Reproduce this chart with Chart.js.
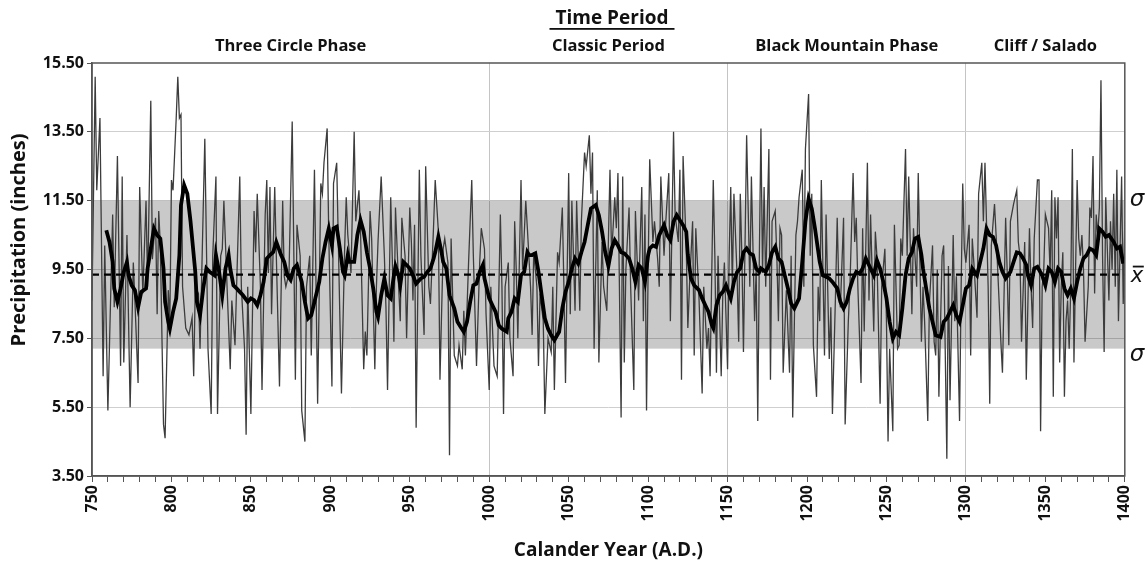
<!DOCTYPE html>
<html>
<head>
<meta charset="utf-8">
<script src="https://cdn.jsdelivr.net/npm/chart.js@4.4.1/dist/chart.umd.min.js"></script>
<style>
  html, body { margin: 0; padding: 0; background: #ffffff; }
  #wrap { width: 1147px; height: 566px; position: relative; }
</style>
</head>
<body>
<div id="wrap"><canvas id="chart" width="1147" height="566"></canvas></div>
<script>
// Annual precipitation (inches) by calendar year
const annualYears = [
  750,752,753,755,757,758,760,763,764,766,768,769,770,772,774,776,777,779,780,782,784,785,787,788,790,791,792,793,795,796,798,799,
  800,801,803,804,805,806,807,809,811,813,814,815,817,818,821,823,825,826,828,829,831,832,833,835,837,838,840,841,843,844,846,847,848,
  850,852,853,854,856,857,859,860,861,862,863,865,866,868,870,871,872,874,876,878,879,881,882,884,885,887,888,890,892,894,895,896,898,899,
  901,902,904,906,907,909,910,911,913,915,916,918,919,921,922,923,925,926,928,929,930,932,934,935,936,938,939,940,941,943,944,945,947,948,
  950,951,952,953,954,956,957,959,960,962,963,965,966,968,969,971,972,974,975,976,978,980,981,983,984,985,987,989,990,992,994,995,997,998,
  1000,1001,1003,1005,1007,1008,1009,1010,1012,1013,1015,1016,1017,1018,1020,1021,1023,1024,1026,1027,1028,1030,1031,1032,1034,1035,1037,1039,
  1040,1041,1043,1044,1046,1047,1048,1050,1051,1052,1054,1055,1057,1058,1060,1061,1063,1064,1065,1066,1068,1069,1071,1072,1074,1076,1077,1079,
  1080,1081,1083,1084,1085,1086,1088,1089,1091,1092,1094,1095,1096,1097,1098,1099,1100,1101,1103,1104,1106,1107,1108,1110,1111,1113,1114,1116,
  1117,1119,1120,1121,1122,1124,1125,1126,1128,1129,1130,1132,1134,1135,1137,1138,1139,1141,1142,1143,1144,1146,1147,1148,1150,1151,1152,1153,
  1154,1156,1157,1158,1159,1160,1162,1164,1165,1167,1168,1169,1170,1171,1172,1173,1174,1176,1177,1178,1180,1181,1182,1183,1184,1185,1187,1189,
  1190,1191,1193,1194,1195,1197,1198,1199,1201,1202,1203,1204,1206,1207,1208,1209,1211,1212,1214,1215,1216,1218,1219,1220,1221,1223,1224,1226,
  1227,1229,1230,1231,1232,1234,1235,1236,1238,1239,1240,1242,1243,1244,1246,1247,1249,1250,1251,1252,1254,1255,1257,1258,1259,1260,1262,1263,
  1264,1266,1267,1269,1270,1272,1273,1274,1276,1277,1279,1280,1281,1282,1283,1285,1286,1288,1289,1290,1292,1293,1294,1296,1297,1298,1299,1300,
  1302,1303,1304,1305,1307,1308,1310,1311,1312,1314,1315,1316,1318,1319,1320,1322,1323,1325,1326,1327,1328,1330,1332,1333,1334,1335,1337,1338,
  1340,1341,1342,1343,1345,1346,1347,1348,1349,1350,1352,1353,1354,1355,1356,1357,1358,1359,1360,1361,1362,1363,1364,1365,1366,1367,1368,1370,
  1371,1372,1373,1374,1375,1377,1378,1379,1380,1381,1382,1383,1384,1385,1386,1387,1388,1389,1390,1391,1392,1393,1394,1395,1396,1397,1398,1399,1400
];
const annualValues = [
  8.6,15.1,11.8,13.9,6.4,10.2,5.4,11.1,8.4,12.8,6.7,12.2,6.8,10.5,5.5,9.7,8.6,6.2,11.9,8.8,11.5,9.0,14.4,9.8,11.0,8.2,11.2,10.2,5.0,4.6,8.9,8.0,
  12.1,11.8,13.9,15.1,13.9,14.0,9.0,7.8,7.6,8.1,6.4,9.0,8.8,7.2,13.3,7.2,5.3,9.9,12.2,5.3,9.9,10.1,11.5,9.0,6.6,8.6,7.3,9.0,12.2,9.0,7.2,4.7,9.0,
  5.3,11.2,10.0,11.7,9.0,6.0,11.1,12.1,9.4,11.9,8.2,11.9,9.9,6.1,11.5,9.3,9.0,9.4,13.8,6.3,10.8,9.9,5.4,4.5,9.0,9.9,7.0,12.4,5.6,12.0,11.7,12.6,13.6,10.5,
  6.1,12.0,12.6,8.1,5.9,10.1,11.6,10.5,9.4,13.5,10.9,11.8,10.6,6.6,7.7,7.0,11.2,10.4,6.6,9.0,10.3,12.2,9.9,8.4,6.0,11.6,9.8,7.4,11.3,9.0,8.0,11.0,9.9,7.5,
  11.3,10.3,8.6,10.8,4.9,12.4,9.9,7.6,12.5,9.0,8.5,10.8,12.1,10.6,6.3,10.1,10.4,9.7,4.1,10.4,7.0,6.7,7.3,6.6,8.3,7.0,9.7,12.1,9.9,6.7,9.7,10.7,10.1,8.2,
  6.0,9.0,6.7,6.4,11.1,9.0,5.3,9.0,9.7,7.5,6.4,10.9,9.5,7.5,12.1,9.5,11.5,10.7,9.0,7.6,10.0,9.0,6.7,8.8,8.0,5.3,7.5,7.1,
  9.0,6.0,10.0,9.7,11.3,9.0,6.2,12.3,8.2,11.5,8.3,11.5,8.3,10.9,12.9,12.5,13.4,11.7,12.9,7.2,11.8,6.8,10.3,9.0,8.3,12.4,9.9,11.6,
  10.7,12.3,5.2,12.2,6.8,9.5,11.3,9.0,6.0,11.2,8.6,10.3,11.9,8.0,11.1,5.4,9.5,12.7,10.3,10.9,9.8,9.0,12.2,9.9,10.8,12.3,8.0,13.5,
  11.1,10.3,12.4,6.3,12.8,10.1,7.8,9.0,10.9,7.0,10.7,8.7,5.9,9.0,7.2,7.8,6.4,12.1,9.9,6.5,9.9,6.4,8.8,9.7,6.6,9.9,11.9,9.0,
  11.7,9.3,7.4,11.7,9.9,7.1,13.4,9.0,12.2,8.0,9.5,5.1,9.9,13.6,9.4,11.9,9.0,13.0,6.3,10.9,11.2,9.9,8.0,10.7,10.5,6.5,8.9,6.5,
  9.9,5.2,10.5,10.9,11.6,12.4,9.0,13.0,14.6,9.9,11.7,7.3,5.8,9.0,8.0,12.1,7.0,11.1,6.9,8.4,5.3,8.9,11.0,9.0,8.4,11.0,5.0,8.0,
  9.0,12.3,10.3,11.0,9.0,6.2,10.7,7.7,12.6,8.6,11.1,7.7,10.6,9.9,5.6,9.0,10.1,8.0,4.5,7.2,4.8,10.8,7.2,7.3,10.4,9.9,13.0,9.9,
  12.2,8.2,10.7,9.0,12.3,7.4,9.0,8.0,5.1,8.5,10.2,7.4,7.0,9.5,5.8,9.9,10.2,4.0,9.6,5.7,10.5,8.0,9.3,5.1,9.0,12.0,10.1,9.7,
  10.8,7.0,10.4,9.7,8.1,11.7,12.6,10.9,12.6,9.0,5.6,10.2,11.4,10.5,9.5,7.4,6.5,11.0,9.4,7.3,10.9,11.4,11.8,10.3,9.9,7.4,10.3,6.3,
  10.7,9.0,7.8,10.4,12.1,12.1,4.8,9.0,9.5,11.1,10.7,9.4,11.8,5.8,11.6,10.4,11.6,6.8,9.0,10.0,5.8,8.0,8.6,7.2,9.0,13.0,6.8,12.1,
  10.4,9.9,10.5,9.5,7.4,9.0,11.3,11.0,12.8,8.8,11.1,10.5,11.3,15.0,9.9,7.1,11.6,10.1,8.6,10.9,9.5,11.7,9.0,12.4,8.0,10.1,12.2,8.5,10.9
];

// Running mean of the annual series
const smoothYears = [
  759,761,763,764,766,768,770,772,773,775,777,779,781,784,785,787,789,791,793,795,796,798,799,801,803,805,806,808,810,812,
  815,816,818,820,822,824,827,828,830,832,834,836,837,839,841,843,845,848,850,852,854,856,858,860,862,864,866,869,871,873,875,877,879,
  882,884,886,888,890,893,895,897,899,901,902,904,906,908,909,911,912,915,917,919,921,923,925,927,929,930,932,934,936,938,940,941,943,944,
  946,948,950,952,954,957,959,961,963,965,966,968,970,971,973,975,978,980,982,984,986,988,990,992,994,996,997,
  1000,1002,1004,1006,1008,1010,1011,1012,1014,1015,1016,1018,1020,1022,1024,1025,1027,1029,1031,1033,1035,1037,1039,1041,1044,1046,1048,
  1050,1052,1054,1056,1058,1060,1062,1064,1067,1069,1071,1073,1075,1077,1079,1081,1083,1085,1088,1090,1092,1094,1096,1098,
  1100,1101,1103,1105,1107,1110,1112,1114,1116,1118,1120,1122,1124,1125,1127,1129,1132,1134,1136,1138,1140,1141,1143,1145,1147,1149,
  1152,1154,1156,1158,1160,1162,1164,1166,1168,1170,1171,1174,1176,1178,1180,1182,1184,1186,1188,1190,1192,1195,1197,1199,
  1201,1203,1205,1208,1210,1212,1214,1216,1219,1221,1223,1225,1227,1229,1231,1233,1235,1237,1240,1242,1244,1246,1248,
  1250,1252,1254,1256,1258,1260,1262,1264,1266,1268,1270,1272,1273,1275,1277,1279,1281,1284,1286,1288,1290,1292,1294,1296,1298,
  1300,1302,1304,1307,1309,1311,1313,1315,1317,1319,1321,1323,1325,1328,1330,1332,1334,1336,1338,1339,1341,1343,1345,1348,
  1350,1352,1354,1356,1358,1360,1362,1364,1366,1368,1370,1372,1374,1376,1378,1380,1382,1384,1386,1388,1390,1393,1395,1397,1399
];
const smoothValues = [
  10.64,10.3,9.72,8.95,8.56,8.95,9.43,9.72,9.33,9.04,8.9,8.4,8.85,8.95,9.53,10.11,10.69,10.5,10.4,9.53,8.56,7.98,7.78,8.27,8.66,9.92,11.37,11.95,11.7,10.9,
  9.43,8.56,8.17,8.95,9.53,9.43,9.33,9.92,9.43,8.75,9.53,9.92,9.53,9.04,8.95,8.85,8.75,8.56,8.66,8.61,8.46,8.75,9.14,9.82,9.92,10.0,10.3,9.92,9.72,9.33,9.2,9.53,9.63,
  9.14,8.56,8.08,8.17,8.56,9.14,9.82,10.3,10.69,10.2,10.69,10.74,10.11,9.43,9.33,9.92,9.72,9.72,10.5,10.93,10.6,10.0,9.53,8.95,8.27,8.12,8.75,9.24,8.75,8.66,9.33,9.6,9.33,9.04,
  9.72,9.63,9.53,9.33,9.09,9.24,9.29,9.43,9.53,9.82,10.0,10.45,10.0,9.72,9.53,8.75,8.37,7.98,7.83,7.69,7.98,8.56,9.04,9.09,9.43,9.63,9.24,
  8.66,8.46,8.27,7.88,7.78,7.72,7.69,8.08,8.27,8.46,8.66,8.56,9.33,9.43,10.0,9.92,9.92,9.97,9.43,8.75,8.08,7.78,7.59,7.45,7.69,8.37,8.85,
  9.14,9.53,9.82,9.67,10.0,10.3,10.79,11.27,11.37,11.08,10.6,10.0,9.6,10.11,10.35,10.2,10.0,9.97,9.82,9.53,9.14,9.63,9.53,9.14,
  9.92,10.11,10.2,10.16,10.5,10.79,10.5,10.35,10.89,11.08,10.93,10.79,10.6,9.92,9.24,9.04,8.9,8.66,8.46,8.27,7.9,7.8,8.46,8.75,8.85,9.04,
  8.66,9.14,9.43,9.53,10.0,10.11,9.97,9.92,9.53,9.43,9.53,9.43,9.63,10.0,10.16,9.82,9.72,9.33,8.95,8.51,8.37,8.66,9.72,10.89,
  11.56,11.27,10.7,9.72,9.33,9.29,9.24,9.14,8.95,8.56,8.37,8.56,8.95,9.24,9.43,9.38,9.53,9.82,9.53,9.33,9.77,9.53,9.14,
  8.66,7.98,7.49,7.69,7.59,8.37,9.33,9.82,10.0,10.4,10.45,9.92,9.53,8.95,8.37,7.98,7.59,7.54,7.98,8.08,8.27,8.46,8.17,7.98,8.46,
  8.95,9.04,9.53,9.33,9.72,10.11,10.69,10.5,10.45,10.2,9.72,9.43,9.24,9.43,9.72,10.0,9.97,9.82,9.63,9.33,9.04,9.53,9.58,9.33,
  9.04,9.53,9.43,9.14,9.53,9.43,8.95,8.75,8.95,8.66,9.14,9.53,9.82,9.92,10.11,10.06,9.92,10.69,10.6,10.45,10.5,10.3,10.11,10.16,9.67
];

const meanValue = 9.35;      // long-term mean
const sigmaLow = 7.2;        // mean - 1 standard deviation
const sigmaHigh = 11.5;      // mean + 1 standard deviation

const yTicks = [3.5, 5.5, 7.5, 9.5, 11.5, 13.5, 15.5];
const xMin = 750, xMax = 1400;

const periodNames = ['Three Circle Phase', 'Classic Period', 'Black Mountain Phase', 'Cliff / Salado'];
const periodStarts = [750, 1000, 1150, 1300];
const periodEnds = [1000, 1150, 1300, 1400];
const periodBounds = [1000, 1150, 1300];

const FONT = '"Open Sans", "DejaVu Sans", sans-serif';

// Shaded one-sigma band behind the series
const bandPlugin = {
  id: 'sigmaBand',
  beforeDatasetsDraw(chart) {
    const { ctx, chartArea: a, scales: { y } } = chart;
    const top = y.getPixelForValue(sigmaHigh);
    const bot = y.getPixelForValue(sigmaLow);
    ctx.save();
    ctx.fillStyle = 'rgba(0,0,0,0.21)';
    ctx.fillRect(a.left, top, a.right - a.left, bot - top);
    ctx.restore();
  }
};

// Frame, headings, axis titles and band symbols
const textPlugin = {
  id: 'annotations',
  afterDraw(chart) {
    const { ctx, chartArea: a, scales: { x, y } } = chart;
    ctx.save();

    // plot frame
    ctx.strokeStyle = '#555';
    ctx.lineWidth = 1.5;
    ctx.strokeRect(a.left, a.top, a.right - a.left, a.bottom - a.top);

    // main heading
    ctx.fillStyle = '#111';
    ctx.textAlign = 'center';
    ctx.textBaseline = 'alphabetic';
    ctx.font = 'bold 19px ' + FONT;
    const cx = 612;
    ctx.fillText('Time Period', cx, 24);
    const w = ctx.measureText('Time Period').width;
    ctx.fillRect(cx - w / 2 - 6, 28, w + 12, 1.8);

    // period names
    ctx.font = 'bold 16.5px ' + FONT;
    ctx.textBaseline = 'middle';
    periodNames.forEach((name, i) => {
      const px = x.getPixelForValue((periodStarts[i] + periodEnds[i]) / 2);
      ctx.fillText(name, px, 46);
    });

    // axis titles
    ctx.font = 'bold 19px ' + FONT;
    ctx.fillText('Calander Year (A.D.)', (a.left + a.right) / 2, 551);
    ctx.save();
    ctx.translate(19, 240);
    ctx.rotate(-Math.PI / 2);
    ctx.font = 'bold 20px ' + FONT;
    ctx.fillText('Precipitation (inches)', 0, 0);
    ctx.restore();

    // sigma / mean symbols at the right edge
    ctx.textAlign = 'left';
    ctx.font = 'italic 23px "DejaVu Sans", sans-serif';
    ctx.fillText('\u03c3', a.right + 5, y.getPixelForValue(sigmaHigh) - 1);
    ctx.fillText('\u03c3', a.right + 5, y.getPixelForValue(sigmaLow) + 6);
    ctx.font = 'italic 21px "DejaVu Sans", sans-serif';
    const my = y.getPixelForValue(meanValue);
    ctx.fillText('x', a.right + 6, my + 2);
    ctx.fillRect(a.right + 8, my - 9, 11, 1.8);

    ctx.restore();
  }
};

new Chart(document.getElementById('chart'), {
  type: 'line',
  data: {
    datasets: [
      {
        label: 'Smoothed',
        data: smoothYears.map((yr, i) => ({ x: yr, y: smoothValues[i] })),
        borderColor: '#000',
        borderWidth: 3.8,
        pointRadius: 0,
        tension: 0,
        order: 1
      },
      {
        label: 'Mean',
        data: [{ x: xMin, y: meanValue }, { x: xMax, y: meanValue }],
        borderColor: '#000',
        borderWidth: 2.4,
        borderDash: [7, 5],
        pointRadius: 0,
        order: 2
      },
      {
        label: 'Annual',
        data: annualYears.map((yr, i) => ({ x: yr, y: annualValues[i] })),
        borderColor: '#3c3c3c',
        borderWidth: 1.3,
        pointRadius: 0,
        tension: 0,
        order: 3
      }
    ]
  },
  options: {
    responsive: false,
    animation: false,
    devicePixelRatio: 1,
    layout: { padding: { left: 0, right: 22, top: 63, bottom: 0 } },
    plugins: { legend: { display: false }, tooltip: { enabled: false }, title: { display: false } },
    scales: {
      x: {
        type: 'linear',
        min: xMin,
        max: xMax,
        afterFit(scale) { scale.height = 90; },
        afterBuildTicks(scale) {
          const t = [];
          for (let v = xMin; v <= xMax; v += 10) t.push({ value: v });
          scale.ticks = t;
        },
        ticks: {
          autoSkip: false,
          minRotation: 90,
          maxRotation: 90,
          padding: 3,
          color: '#111',
          font: { family: FONT, size: 16, weight: 'bold' },
          callback: (v) => (v % 50 === 0 ? String(v) : '')
        },
        grid: {
          color: (c) => (c.tick && periodBounds.includes(c.tick.value) ? '#c4c4c4' : 'rgba(0,0,0,0)'),
          lineWidth: 1,
          drawTicks: true,
          tickLength: 6,
          tickColor: '#555'
        },
        border: { display: true, color: '#555', width: 1.5 }
      },
      y: {
        type: 'linear',
        min: 3.5,
        max: 15.5,
        afterFit(scale) { scale.width = 92; },
        afterBuildTicks(scale) { scale.ticks = yTicks.map((v) => ({ value: v })); },
        ticks: {
          padding: 3,
          color: '#111',
          font: { family: FONT, size: 16, weight: 'bold' },
          callback: (v) => Number(v).toFixed(2)
        },
        grid: {
          color: (c) => (c.tick && (c.tick.value === 3.5 || c.tick.value === 15.5) ? 'rgba(0,0,0,0)' : '#cfcfcf'),
          lineWidth: 1,
          drawTicks: true,
          tickLength: 5,
          tickColor: '#555'
        },
        border: { display: true, color: '#555', width: 1.5 }
      }
    }
  },
  plugins: [bandPlugin, textPlugin]
});
</script>
</body>
</html>
